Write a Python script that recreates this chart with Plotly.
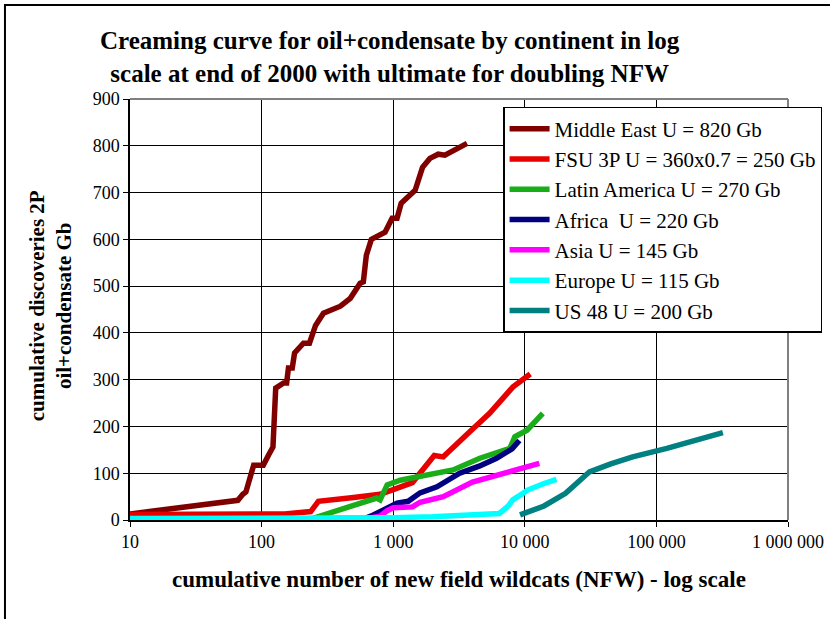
import plotly.graph_objects as go

# NFW (x) and cumulative discoveries Gb (y)
me_x = [10, 66, 72, 76, 87, 103, 113, 122, 128, 147, 155, 160, 171, 178, 208, 231, 257, 295,
        397, 472, 561, 593, 625, 682, 867, 981, 1070, 1150, 1468, 1670, 1900, 2200, 2470, 3040, 3640]
me_y = [13, 42, 55, 60, 117, 117, 139, 156, 282, 293, 293, 325, 325, 357, 378, 378, 416, 442,
        457, 474, 506, 509, 566, 600, 615, 645, 645, 677, 705, 754, 773, 782, 780, 793, 805]

fsu_x = [10, 150, 236, 270, 500, 795, 1000, 1400, 2050, 2400, 3800, 5400, 8100, 11000]
fsu_y = [12, 13, 18, 40, 48, 55, 65, 80, 138, 135, 188, 228, 284, 312]

lat_x = [50, 100, 236, 750, 795, 900, 1130, 2850, 4550, 7700, 8400, 10400, 13700]
lat_y = [0, 1, 2, 47, 43, 75, 85, 107, 132, 153, 178, 192, 228]

afr_x = [10, 18, 60, 150, 400, 620, 700, 850, 1070, 1300, 1600, 2150, 3200, 4500, 6100, 8000, 9100]
afr_y = [0, 1, 1, 2, 3, 4, 10, 22, 36, 40, 58, 71, 100, 115, 132, 152, 170]

asia_x = [100, 300, 600, 795, 900, 1000, 1400, 1600, 2400, 4000, 7300, 12900]
asia_y = [0, 1, 2, 8, 20, 26, 28, 38, 50, 81, 100, 121]

eur_x = [10, 100, 500, 1000, 2000, 3600, 6400, 7500, 8100, 9700, 10500, 14000, 17400]
eur_y = [3, 3, 4, 5, 7, 10, 14, 30, 43, 57, 64, 78, 87]

us_x = [9200, 10600, 14000, 20400, 31000, 45000, 66000, 120000, 200000, 320000]
us_y = [11, 17, 30, 57, 103, 120, 135, 153, 170, 187]

series = [
    ("Middle East U = 820 Gb", me_x, me_y, "#800000"),
    ("FSU 3P U = 360x0.7 = 250 Gb", fsu_x, fsu_y, "#e60000"),
    ("Latin America U = 270 Gb", lat_x, lat_y, "#1aad1a"),
    ("Africa&nbsp; U = 220 Gb", afr_x, afr_y, "#000080"),
    ("Asia U = 145 Gb", asia_x, asia_y, "#ff00ff"),
    ("Europe U = 115 Gb", eur_x, eur_y, "#00ffff"),
    ("US 48 U = 200 Gb", us_x, us_y, "#008080"),
]

tick_vals = [10, 100, 1000, 10000, 100000, 1000000]
tick_text = ["10", "100", "1 000", "10 000", "100 000", "1 000 000"]

font = "Liberation Serif"

fig = go.Figure()
for i, (name, xs, ys, col) in enumerate(series):
    fig.add_trace(go.Scatter(
        x=xs, y=ys, mode="lines", name=name,
        legendgroup=str(i), line=dict(color=col, width=5.5)
    ))

fig.update_layout(
    width=830, height=619,
    margin=dict(l=130, r=42, t=99, b=99, autoexpand=False),
    paper_bgcolor="white", plot_bgcolor="white",
    font=dict(family=font, size=18, color="black"),
    showlegend=True,
    legend=dict(
        x=0.567, y=0.981, xanchor="left", yanchor="top",
        bgcolor="white", bordercolor="black", borderwidth=1.5,
        font=dict(family=font, size=21, color="black"),
        traceorder="grouped", tracegroupgap=0, itemwidth=40,
    ),
)

fig.update_xaxes(
    type="log", range=[1, 6], tickvals=tick_vals, ticktext=tick_text,
    showgrid=True, gridcolor="black", gridwidth=1,
    showline=True, linecolor="black", linewidth=1.5,
    ticks="outside", ticklen=5, tickcolor="black",
    tickfont=dict(family=font, size=18), zeroline=False,
)
fig.update_yaxes(
    range=[0, 900], dtick=100,
    showgrid=True, gridcolor="black", gridwidth=1,
    showline=True, linecolor="black", linewidth=1.5,
    ticks="outside", ticklen=5, tickcolor="black",
    tickfont=dict(family=font, size=18), zeroline=False,
)

# gray top/right plot-area border and outer frame
fig.add_shape(type="line", xref="paper", yref="paper", x0=0, x1=1, y0=1, y1=1,
              line=dict(color="#808080", width=2))
fig.add_shape(type="line", xref="paper", yref="paper", x0=1, x1=1, y0=0, y1=1,
              line=dict(color="#808080", width=2))
fig.add_shape(type="rect", xref="paper", yref="paper", x0=-0.19, x1=1.07, y0=-0.25, y1=1.223,
              line=dict(color="black", width=2))

fig.add_annotation(
    text="<b>Creaming curve for oil+condensate by continent in log<br>scale at end of 2000 with ultimate for doubling NFW</b>",
    xref="paper", yref="paper", x=0.395, y=1.1, xanchor="center", yanchor="middle",
    showarrow=False, font=dict(family=font, size=25, color="black"), align="center",
)
fig.add_annotation(
    text="<b>cumulative number of new field wildcats (NFW) - log scale</b>",
    xref="paper", yref="paper", x=0.5, y=-0.1425, xanchor="center", yanchor="middle",
    showarrow=False, font=dict(family=font, size=23, color="black"),
)
fig.add_annotation(
    text="<b>cumulative discoveries 2P<br>oil+condensate Gb</b>",
    xref="paper", yref="paper", x=-0.1216, y=0.51, xanchor="center", yanchor="middle",
    showarrow=False, textangle=-90,
    font=dict(family=font, size=21, color="black"), align="center",
)

fig.write_html("out.html", config={"displayModeBar": False},
               post_script="document.body.style.margin='0px';")
